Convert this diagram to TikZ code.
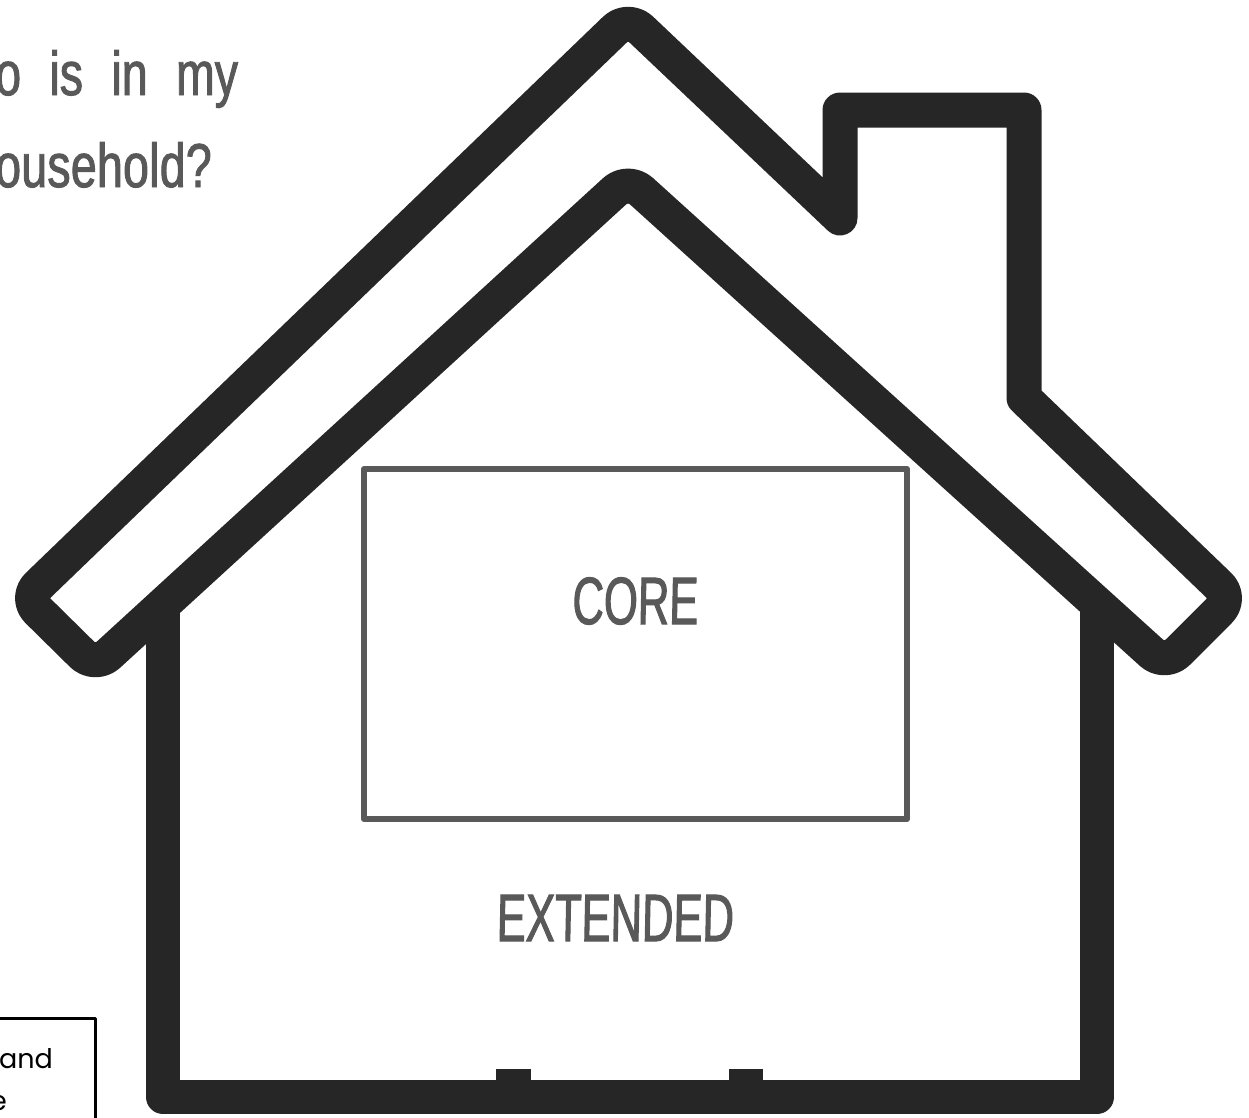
\documentclass[tikz,border=0pt]{standalone}
\usepackage{fontspec}
\setmainfont{Liberation Sans}
\newfontfamily\handfont[FakeStretch=0.75,FakeBold=1.5,WordSpace=2.2]{Liberation Sans}
\newfontfamily\capsfont[FakeStretch=0.65,FakeBold=1.5,FakeSlant=0.02]{Liberation Sans}
\newfontfamily\notefont{Poppins}
\begin{document}
\begin{tikzpicture}[
    x=1pt, y=-1pt,
    house/.style={draw=inkblack, line width=35pt, line join=round, line cap=round},
    hand/.style={font=\handfont\fontsize{62}{62}\selectfont, text=inkgrey, inner sep=0pt, anchor=base west},
    caps/.style={font=\capsfont\fontsize{67}{67}\selectfont, text=inkgrey, inner sep=0pt},
    notetext/.style={font=\notefont\fontsize{27}{27}\selectfont, text=black, inner sep=0pt, anchor=base west},
    corebox/.style={draw=inkgrey, line width=6pt, line join=round, minimum width=543pt, minimum height=350pt, inner sep=0pt},
    notebox/.style={draw=black, line width=3pt, line join=round, minimum width=125pt, minimum height=125pt, inner sep=0pt, outer sep=0pt, anchor=north east}
]
\definecolor{inkblack}{HTML}{262626}
\definecolor{inkgrey}{HTML}{595959}
\clip (0,0) rectangle (1249,1117);

% walls and door marks
\fill[inkblack] (496,1069) rectangle (531,1090);
\fill[inkblack] (729,1069) rectangle (763,1090);
\draw[house, line width=34pt, line cap=butt] (163,610) -- (163,1097) -- (1097,1097) -- (1097,610);

% roof with chimney
\draw[house, fill=white] (932,110) -- (1024,110) -- (1024,398) [rounded corners=18pt]
  -- (1232,598) -- (1165,665) -- (628,179) -- (95,667) -- (25,598) -- (628,17) [sharp corners]
  -- (840,218) -- (840,110) -- cycle;

% rooms
\node (core) [corebox] at (635.5,644) {};
\node (corelabel)     [caps] at (635,601) {CORE};
\node (extendedlabel) [caps] at (615,918) {EXTENDED};

% question, cut by the page edge
\node (line1) [hand] at (-5,95) {o is in my};
\node (line2) [hand] at (-5,187) {\addfontfeature{LetterSpace=0.4}ousehold?};

% note, cut by the page edge
\node (note) [notebox] at (95,1018) {};
\node (note1) [notetext] at (-1,1068) {and};
\node (note2) [notetext] at (-10,1110) {e};
\end{tikzpicture}
\end{document}
